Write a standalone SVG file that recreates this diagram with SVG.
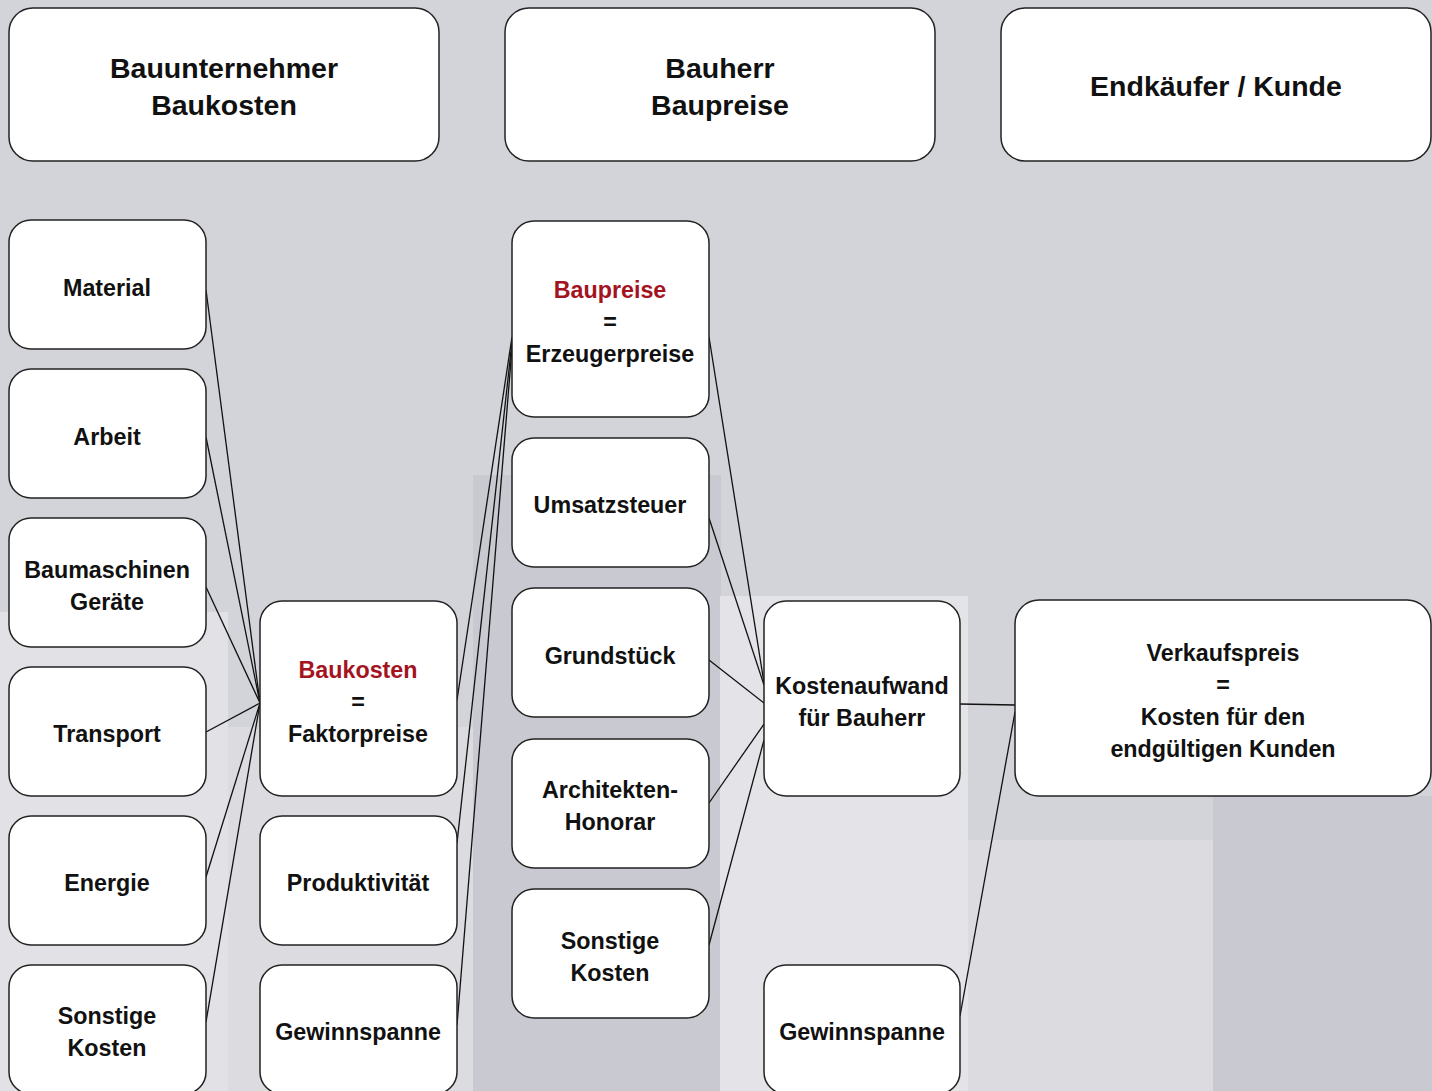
<svg xmlns="http://www.w3.org/2000/svg" width="1432" height="1091" viewBox="0 0 1432 1091">
<style>
.box{fill:#ffffff;stroke:#222222;stroke-width:1.5}
.t{font-family:"Liberation Sans",Arial,sans-serif;font-weight:bold;font-size:23.3px;fill:#111111;text-anchor:middle}
.h{font-size:28.5px}
.red{fill:#a3141f}
.c line{stroke:#111111;stroke-width:1.3}
</style>
<g id="background">
<rect x="0" y="0" width="1432" height="1091" fill="#d3d4d9"/>
<rect x="0" y="612" width="228" height="479" fill="#e2e2e6"/>
<rect x="228" y="727" width="246" height="364" fill="#dcdce0"/>
<rect x="473" y="475" width="248" height="616" fill="#c9c9d1"/>
<rect x="720" y="596" width="248" height="495" fill="#e4e4e8"/>
<rect x="968" y="840" width="245" height="251" fill="#dcdce0"/>
<rect x="1213" y="796" width="219" height="295" fill="#c9c9d1"/>
</g>
<g id="connectors" class="c">
<line x1="206" y1="290" x2="260" y2="703"/>
<line x1="206" y1="437" x2="260" y2="703"/>
<line x1="206" y1="587" x2="260" y2="703"/>
<line x1="206" y1="732" x2="260" y2="703"/>
<line x1="206" y1="877" x2="260" y2="703"/>
<line x1="206" y1="1022" x2="260" y2="703"/>
<line x1="457" y1="700" x2="512" y2="337"/>
<line x1="457" y1="843" x2="512" y2="342"/>
<line x1="457" y1="1025" x2="512" y2="348"/>
<line x1="709" y1="337" x2="764" y2="683"/>
<line x1="709" y1="518" x2="764" y2="685"/>
<line x1="709" y1="660" x2="764" y2="703"/>
<line x1="709" y1="803" x2="764" y2="724"/>
<line x1="709" y1="945" x2="764" y2="740"/>
<line x1="960" y1="704" x2="1015" y2="705"/>
<line x1="960" y1="1016" x2="1015" y2="712"/>
</g>
<g id="hdr-bauunternehmer"><rect class="box" x="9" y="8" width="430" height="153" rx="24"/><text class="t h" x="224" y="78">Bauunternehmer</text><text class="t h" x="224" y="115">Baukosten</text></g>
<g id="hdr-bauherr"><rect class="box" x="505" y="8" width="430" height="153" rx="24"/><text class="t h" x="720" y="78">Bauherr</text><text class="t h" x="720" y="115">Baupreise</text></g>
<g id="hdr-endkaeufer"><rect class="box" x="1001" y="8" width="430" height="153" rx="24"/><text class="t h" x="1216" y="96">Endkäufer / Kunde</text></g>
<g id="material"><rect class="box" x="9" y="220" width="197" height="129" rx="22"/><text class="t" x="107" y="296">Material</text></g>
<g id="arbeit"><rect class="box" x="9" y="369" width="197" height="129" rx="22"/><text class="t" x="107" y="445">Arbeit</text></g>
<g id="baumaschinen"><rect class="box" x="9" y="518" width="197" height="129" rx="22"/><text class="t" x="107" y="578">Baumaschinen</text><text class="t" x="107" y="610">Geräte</text></g>
<g id="transport"><rect class="box" x="9" y="667" width="197" height="129" rx="22"/><text class="t" x="107" y="742">Transport</text></g>
<g id="energie"><rect class="box" x="9" y="816" width="197" height="129" rx="22"/><text class="t" x="107" y="891">Energie</text></g>
<g id="sonstige1"><rect class="box" x="9" y="965" width="197" height="129" rx="22"/><text class="t" x="107" y="1024">Sonstige</text><text class="t" x="107" y="1056">Kosten</text></g>
<g id="baukosten"><rect class="box" x="260" y="601" width="197" height="195" rx="22"/><text class="t red" x="358" y="678">Baukosten</text><text class="t" x="358" y="710">=</text><text class="t" x="358" y="742">Faktorpreise</text></g>
<g id="produktivitaet"><rect class="box" x="260" y="816" width="197" height="129" rx="22"/><text class="t" x="358" y="891">Produktivität</text></g>
<g id="gewinnspanne1"><rect class="box" x="260" y="965" width="197" height="129" rx="22"/><text class="t" x="358" y="1040">Gewinnspanne</text></g>
<g id="baupreise"><rect class="box" x="512" y="221" width="197" height="196" rx="22"/><text class="t red" x="610" y="298">Baupreise</text><text class="t" x="610" y="330">=</text><text class="t" x="610" y="362">Erzeugerpreise</text></g>
<g id="umsatzsteuer"><rect class="box" x="512" y="438" width="197" height="129" rx="22"/><text class="t" x="610" y="513">Umsatzsteuer</text></g>
<g id="grundstueck"><rect class="box" x="512" y="588" width="197" height="129" rx="22"/><text class="t" x="610" y="664">Grundstück</text></g>
<g id="architekten"><rect class="box" x="512" y="739" width="197" height="129" rx="22"/><text class="t" x="610" y="798">Architekten-</text><text class="t" x="610" y="830">Honorar</text></g>
<g id="sonstige2"><rect class="box" x="512" y="889" width="197" height="129" rx="22"/><text class="t" x="610" y="949">Sonstige</text><text class="t" x="610" y="981">Kosten</text></g>
<g id="kostenaufwand"><rect class="box" x="764" y="601" width="196" height="195" rx="22"/><text class="t" x="862" y="694">Kostenaufwand</text><text class="t" x="862" y="726">für Bauherr</text></g>
<g id="gewinnspanne2"><rect class="box" x="764" y="965" width="196" height="129" rx="22"/><text class="t" x="862" y="1040">Gewinnspanne</text></g>
<g id="verkaufspreis"><rect class="box" x="1015" y="600" width="416" height="196" rx="24"/><text class="t" x="1223" y="661">Verkaufspreis</text><text class="t" x="1223" y="693">=</text><text class="t" x="1223" y="725">Kosten für den</text><text class="t" x="1223" y="757">endgültigen Kunden</text></g>
</svg>
